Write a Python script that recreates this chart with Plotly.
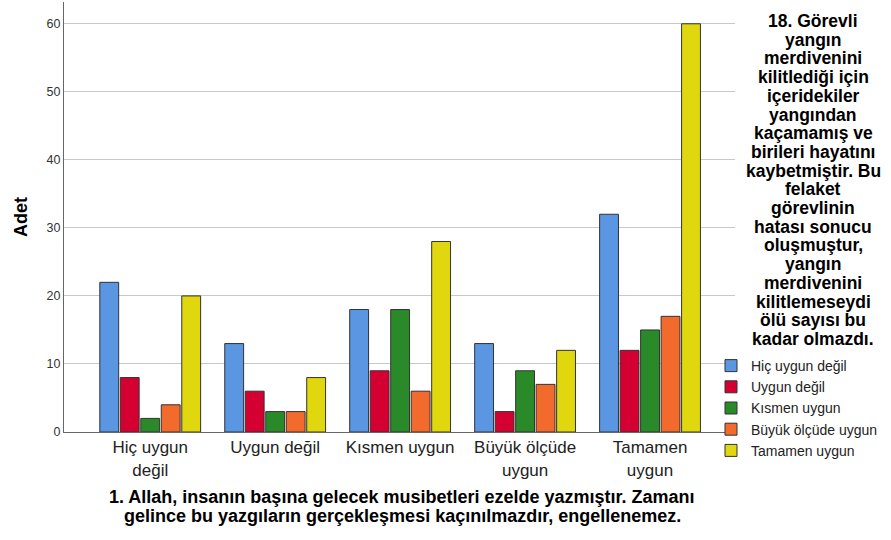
import plotly.graph_objects as go

categories = ["Hiç uygun değil", "Uygun değil", "Kısmen uygun", "Büyük ölçüde uygun", "Tamamen uygun"]
tick_labels = ["Hiç uygun<br>değil", "Uygun değil", "Kısmen uygun", "Büyük ölçüde<br>uygun", "Tamamen<br>uygun"]

series_names = ["Hiç uygun değil", "Uygun değil", "Kısmen uygun", "Büyük ölçüde uygun", "Tamamen uygun"]
hic_uygun_degil = [22, 13, 18, 13, 32]
uygun_degil = [8, 6, 9, 3, 12]
kismen_uygun = [2, 3, 18, 9, 15]
buyuk_olcude_uygun = [4, 3, 6, 7, 17]
tamamen_uygun = [20, 8, 28, 12, 60]

series_values = [hic_uygun_degil, uygun_degil, kismen_uygun, buyuk_olcude_uygun, tamamen_uygun]

colors = [
    "#5A96E2",  # blue
    "#D50032",  # red
    "#2A8A2A",  # green
    "#F26A2C",  # orange
    "#E1D70E",  # yellow
]

legend_title_lines = [
    "18. Görevli", "yangın", "merdivenini", "kilitlediği için", "içeridekiler",
    "yangından", "kaçamamış ve", "birileri hayatını", "kaybetmiştir. Bu", "felaket",
    "görevlinin", "hatası sonucu", "oluşmuştur,", "yangın", "merdivenini",
    "kilitlemeseydi", "ölü sayısı bu", "kadar olmazdı.",
]

x_title_lines = [
    "1. Allah, insanın başına gelecek musibetleri ezelde yazmıştır. Zamanı",
    "gelince bu yazgıların gerçekleşmesi kaçınılmazdır, engellenemez.",
]

# plot area in pixels
left, right, top, bottom = 64, 156, 2, 108
plot_w = 891 - left - right
plot_h = 540 - top - bottom


def px_x(px):
    return (px - left) / plot_w


def px_y(py):
    return (540 - bottom - py) / plot_h


fig = go.Figure()

x_idx = list(range(len(categories)))

for name, vals, color in zip(series_names, series_values, colors):
    fig.add_trace(
        go.Bar(
            x=x_idx,
            y=vals,
            name=name,
            marker=dict(
                color=color,
                line=dict(color="#333333", width=1)
            )
        )
    )

# legend heading (wrapped question text), tight line spacing
for i, line in enumerate(legend_title_lines):
    fig.add_annotation(
        x=px_x(813),
        y=px_y(21 + i * 18.7),
        xref="paper",
        yref="paper",
        xanchor="center",
        yanchor="middle",
        text="<b>" + line + "</b>",
        showarrow=False,
        font=dict(size=17.5, color="#000000")
    )

# x axis title, two lines
for i, line in enumerate(x_title_lines):
    fig.add_annotation(
        x=px_x(402),
        y=px_y(497 + i * 19),
        xref="paper",
        yref="paper",
        xanchor="center",
        yanchor="middle",
        text="<b>" + line + "</b>",
        showarrow=False,
        font=dict(size=18, color="#000000")
    )

fig.update_layout(
    width=891,
    height=540,
    barmode="group",
    bargap=0.18,
    bargroupgap=0.08,
    paper_bgcolor="white",
    plot_bgcolor="white",
    font=dict(family="Liberation Sans, Arial", color="#000000"),
    margin=dict(l=left, r=right, t=top, b=bottom, autoexpand=False),
    showlegend=True,
    legend=dict(
        x=px_x(711),
        xanchor="left",
        y=px_y(350),
        yanchor="top",
        font=dict(size=14, color="#222222"),
        tracegroupgap=0,
        itemwidth=30,
        bgcolor="rgba(0,0,0,0)"
    ),
    xaxis=dict(
        tickmode="array",
        tickvals=x_idx,
        ticktext=tick_labels,
        range=[-0.69, 4.68],
        showgrid=False,
        showline=True,
        linecolor="#666666",
        linewidth=1,
        ticks="",
        tickfont=dict(size=17, color="#222222"),
        automargin=False
    ),
    yaxis=dict(
        range=[0, 63.2],
        tickvals=[0, 10, 20, 30, 40, 50, 60],
        showgrid=True,
        gridcolor="#C8C8C8",
        gridwidth=1,
        showline=True,
        linecolor="#666666",
        linewidth=1,
        ticks="",
        zeroline=False,
        automargin=False,
        tickfont=dict(size=12.5, color="#333333"),
        title=dict(
            text="<b>Adet</b>",
            font=dict(size=18, color="#000000"),
            standoff=14
        )
    )
)

fig.write_html(
    "out.html",
    config={"displayModeBar": False},
    post_script="document.body.style.margin='0';"
)
